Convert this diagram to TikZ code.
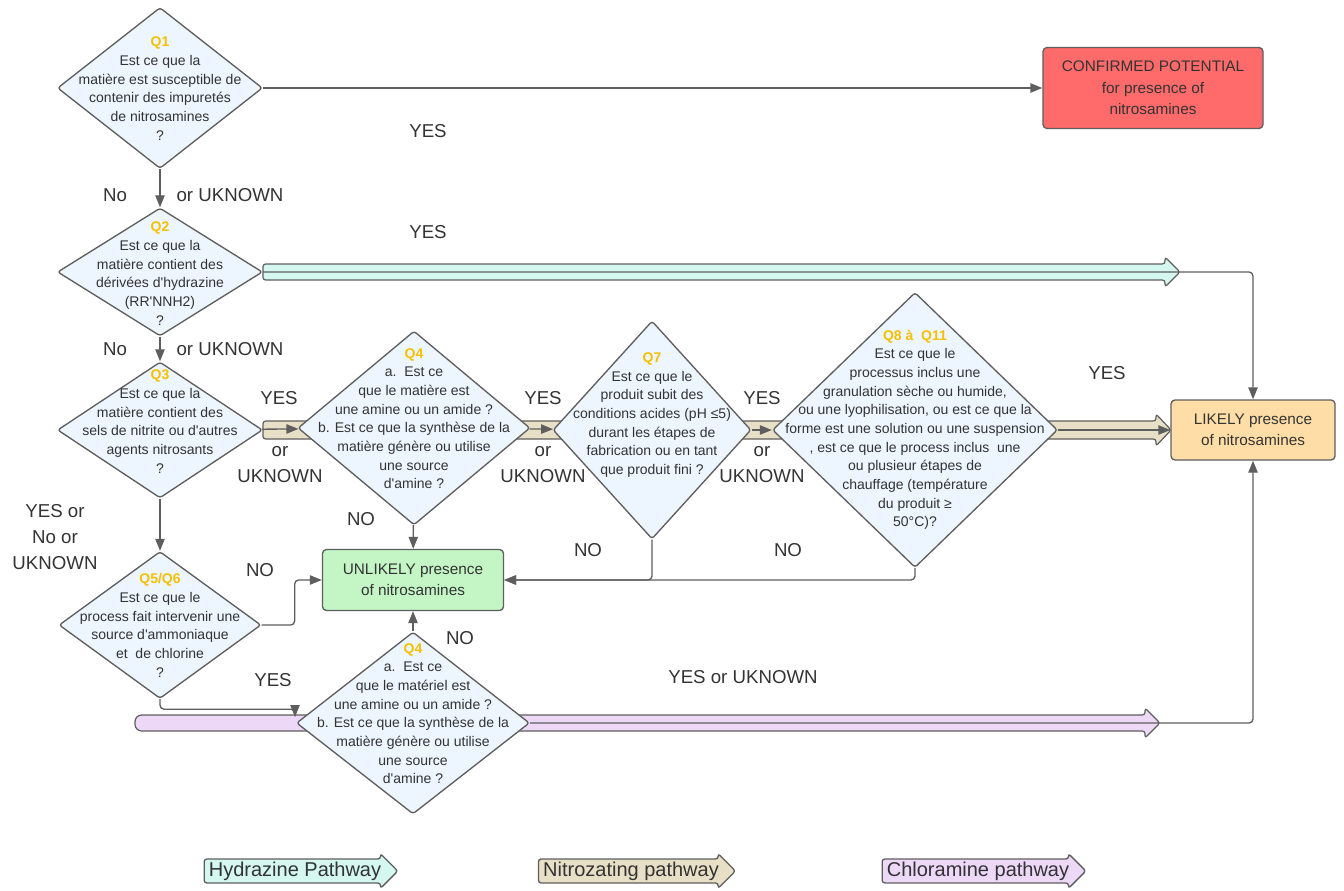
\documentclass[tikz,border=0pt]{standalone}
\usepackage{fontspec}
\setmainfont{Liberation Sans}[Ligatures=TeXOff]
\usetikzlibrary{shapes.geometric}
\usetikzlibrary{shapes.arrows}
\usetikzlibrary{arrows.meta}
\usetikzlibrary{backgrounds}

\definecolor{qfill}{HTML}{EDF5FF}
\definecolor{edge}{HTML}{5E5E5E}
\definecolor{ink}{HTML}{333333}
\definecolor{qgold}{HTML}{F5C000}
\definecolor{redbox}{HTML}{FF6B6B}
\definecolor{orangebox}{HTML}{FFDDA6}
\definecolor{greenbox}{HTML}{C3F5C5}
\definecolor{hydfill}{HTML}{D4F7EF}
\definecolor{nitfill}{HTML}{E8E0C6}
\definecolor{chlfill}{HTML}{EED8F8}

% question text: raise, label, lines
\newcommand{\qtext}[3]{\smash{\makebox[0pt]{\raisebox{#1}{\begin{tabular}{@{}c@{}}\textcolor{qgold}{\bfseries #2}\\#3\end{tabular}}}}}
% pathway band: x start, x end, y, half height, colour, rounding of the tail
\newcommand{\band}[6]{%
  \filldraw[band, fill=#5] (#1+40,#3-#4) [rounded corners=2pt] -- (#2-15,#3-#4) -- (#2-15,#3-#4-7)
    -- (#2,#3) -- (#2-15,#3+#4+7) -- (#2-15,#3+#4) -- (#1+40,#3+#4) [rounded corners=#6]
    -- (#1,#3+#4) -- (#1,#3-#4) -- cycle;}

\begin{document}
\begin{tikzpicture}[x=0.75pt,y=-0.75pt]
	\tikzstyle{question}=[diamond, draw=edge, fill=qfill, line width=1pt, rounded corners=2pt, inner sep=0pt, text=ink, font=\fontsize{10.5}{14}\selectfont]
	\tikzstyle{result}=[rectangle, draw=edge, line width=1pt, rounded corners=3pt, inner sep=0pt, align=center, text=ink, font=\fontsize{11.5}{16}\selectfont]
	\tikzstyle{answer}=[inner sep=0pt, align=center, text=ink, font=\fontsize{14}{19.5}\selectfont]
	\tikzstyle{flow}=[draw=edge, line width=1pt, -{Triangle[length=9pt,width=7pt]}]
	\tikzstyle{band}=[draw=edge, line width=0.9pt]
	\tikzstyle{legend}=[single arrow, draw=edge, line width=1pt, rounded corners=2pt, single arrow head extend=4pt, inner xsep=3pt, inner ysep=1.5pt, text=ink, font=\fontsize{15}{17}\selectfont]

	\useasboundingbox (0,0) rectangle (1344,891);

	% questions
	\node[question, minimum width=205*0.75pt, minimum height=161*0.75pt] (q1) at (160,88) {\qtext{-4pt}{Q1}{Est ce que la\\matière est susceptible de\\contenir des impuretés\\de nitrosamines\\?}};
	\node[question, minimum width=205*0.75pt, minimum height=128*0.75pt] (q2) at (160,272) {\qtext{-4.9pt}{Q2}{Est ce que la\\matière contient des\\dérivées d'hydrazine\\(RR'NNH2)\\?}};
	\node[question, minimum width=205*0.75pt, minimum height=136*0.75pt] (q3) at (160,430) {\qtext{2.6pt}{Q3}{Est ce que la\\matière contient des\\sels de nitrite ou d'autres\\agents nitrosants\\?}};
	\node[question, minimum width=232*0.75pt, minimum height=194*0.75pt] (q4) at (414,428) {\qtext{3.4pt}{Q4}{a.\ \ Est ce\\que le matière est\\une amine ou un amide ?\\b. Est ce que la synthèse de la\\matière génère ou utilise\\une source\\d'amine ?}};
	\node[question, minimum width=198*0.75pt, minimum height=218*0.75pt] (q7) at (652,430) {\qtext{8.6pt}{Q7}{Est ce que le\\produit subit des\\conditions acides (pH ≤5)\\durant les étapes de\\fabrication ou en tant\\que produit fini ?}};
	\node[question, minimum width=285*0.75pt, minimum height=275*0.75pt] (q8) at (915,430) {\qtext{-2.6pt}{Q8 à\ \ Q11}{Est ce que le\\processus inclus une\\granulation sèche ou humide,\\ou une lyophilisation, ou est ce que la\\forme est une solution ou une suspension\\, est ce que le process inclus\ \ une\\ou plusieur étapes de\\chauffage (température\\du produit ≥\\50°C)?}};
	\node[question, minimum width=202*0.75pt, minimum height=147*0.75pt] (q56) at (160,625) {\qtext{-4pt}{Q5/Q6}{Est ce que le\\process fait intervenir une\\source d'ammoniaque\\et\ \ de chlorine\\?}};
	\node[question, minimum width=233*0.75pt, minimum height=182*0.75pt] (q4b) at (413,723) {\qtext{3.4pt}{Q4}{a.\ \ Est ce\\que le matériel est\\une amine ou un amide ?\\b. Est ce que la synthèse de la\\matière génère ou utilise\\une source\\d'amine ?}};

	% outcomes
	\node[result, fill=redbox, minimum width=220*0.75pt, minimum height=81*0.75pt] (confirmed) at (1153,88) {CONFIRMED POTENTIAL\\for presence of\\nitrosamines};
	\node[result, fill=orangebox, minimum width=164*0.75pt, minimum height=60*0.75pt] (likely) at (1253,430) {LIKELY presence\\of nitrosamines};
	\node[result, fill=greenbox, minimum width=181*0.75pt, minimum height=61*0.75pt] (unlikely) at (413,580) {UNLIKELY presence\\of nitrosamines};

	% pathway bands
	\begin{pgfonlayer}{background}
		\fill[white] (0,0) rectangle (1344,891);
		\band{263}{1180}{272}{8}{hydfill}{2pt}
		\band{263}{1171}{430}{9}{nitfill}{2pt}
		\band{135}{1160}{723}{8}{chlfill}{5pt}
	\end{pgfonlayer}

	% connectors
	\draw[flow] (q1) -- (confirmed);
	\draw[flow] (q1) -- (q2);
	\draw[flow, rounded corners=3pt] (q2.east) -| (likely.north);
	\draw[flow] (q2) -- (q3);
	\draw[flow] (q3) -- (q4);
	\draw[flow] (q4) -- (q7);
	\draw[flow] (q7) -- (q8);
	\draw[flow] (q8) -- (likely);
	\draw[flow] (q3) -- (q56);
	\draw[flow, rounded corners=3pt] (q56.east) -- ++(33,0) |- (unlikely.west);
	\draw[flow] (q4) -- (unlikely);
	\draw[flow, rounded corners=3pt] (q7.south) |- (unlikely.east);
	\draw[flow, rounded corners=3pt] (q8.south) |- (unlikely.east);
	\draw[flow] (q4b) -- (unlikely);
	\coordinate (q4bin) at (295,717);
	\draw[flow, rounded corners=3pt] (q56.south) -- ++(0,10) -| (q4bin);
	\draw[flow, rounded corners=3pt] (q4b.east) -| (likely.south);

	% answers
	\node[answer] (yes1) at (428,131) {YES};
	\node[answer] (no1) at (115,195) {No};
	\node[answer] (unk1) at (230,195) {or UKNOWN};
	\node[answer] (yes2) at (428,232) {YES};
	\node[answer] (no2) at (115,349) {No};
	\node[answer] (unk2) at (230,349) {or UKNOWN};
	\node[answer] (yes3) at (279,398) {YES};
	\node[answer] (unk3) at (280,465) {or\\UKNOWN};
	\node[answer] (yes4) at (543,398) {YES};
	\node[answer] (unk4) at (543,465) {or\\UKNOWN};
	\node[answer] (yes7) at (762,398) {YES};
	\node[answer] (unk7) at (762,465) {or\\UKNOWN};
	\node[answer] (yes8) at (1107,373) {YES};
	\node[answer] (any3) at (55,537) {YES or\\No or\\UKNOWN};
	\node[answer] (no4) at (361,519) {NO};
	\node[answer] (no56) at (260,570) {NO};
	\node[answer] (no7) at (588,550) {NO};
	\node[answer] (no8) at (788,550) {NO};
	\node[answer] (no4b) at (460,638) {NO};
	\node[answer] (yes56) at (273,680) {YES};
	\node[answer] (yes4b) at (743,677) {YES or UKNOWN};

	% legend
	\node[legend, fill=hydfill] (lhyd) at (295,871) {Hydrazine Pathway};
	\node[legend, fill=nitfill] (lnit) at (631,871) {Nitrozating pathway};
	\node[legend, fill=chlfill] (lchl) at (978,871) {Chloramine pathway};
\end{tikzpicture}
\end{document}
